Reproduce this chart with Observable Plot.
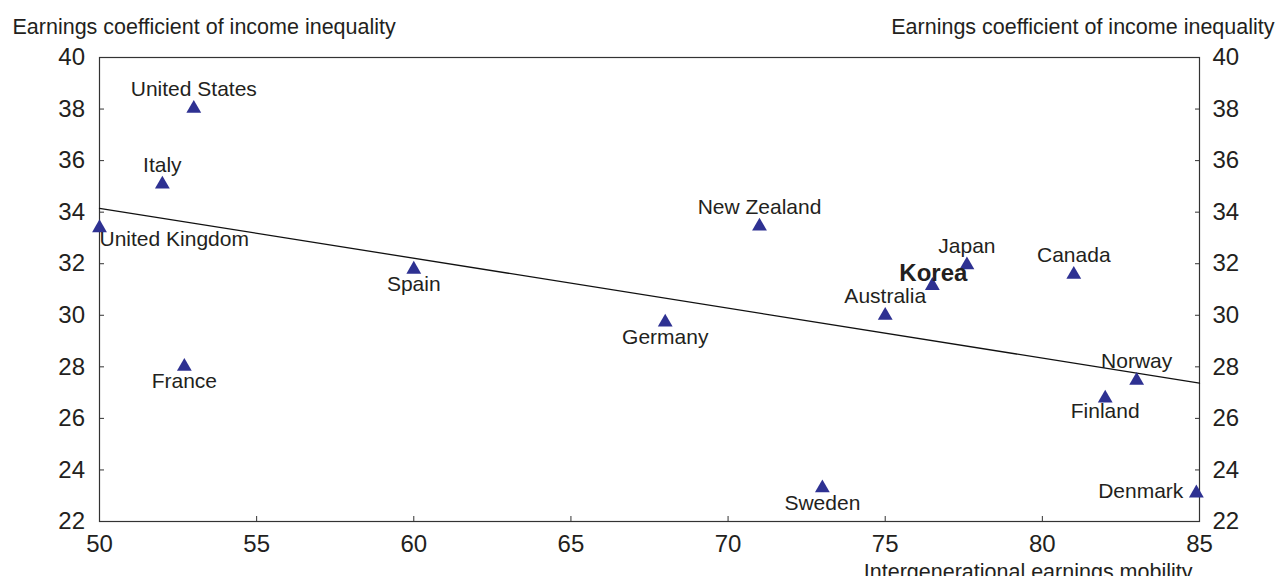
<!DOCTYPE html>
<html>
<head>
<meta charset="utf-8">
<script src="https://cdn.jsdelivr.net/npm/d3@7"></script>
<script src="https://cdn.jsdelivr.net/npm/@observablehq/plot@0.6"></script>
<style>
  html, body { margin: 0; padding: 0; background: #fff; overflow: hidden; }
</style>
</head>
<body>
<div id="chart"></div>
<script>
// ---- data ----
const countries = ["United States", "Italy", "United Kingdom", "Spain", "France", "Germany",
  "New Zealand", "Sweden", "Australia", "Korea", "Japan", "Canada", "Norway", "Finland", "Denmark"];
const mobility = [53.0, 52.0, 50.0, 60.0, 52.7, 68.0, 71.0, 73.0, 75.0, 76.5, 77.6, 81.0, 83.0, 82.0, 84.9];
const inequality = [38.02, 35.08, 33.39, 31.78, 28.01, 29.73, 33.45, 23.3, 29.99, 31.15, 31.95, 31.58, 27.47, 26.78, 23.1];
const xTicks = [50, 55, 60, 65, 70, 75, 80, 85];
const yTicks = [22, 24, 26, 28, 30, 32, 34, 36, 38, 40];
const trendX = [50, 85];
const trendY = [34.15, 27.37];
const yTitle = "Earnings coefficient of income inequality";
const xTitle = "Intergenerational earnings mobility";
const highlighted = "Korea";

// ---- build ----
const data = countries.map((c, i) => ({country: c, x: mobility[i], y: inequality[i]}));
const trend = trendX.map((x, i) => ({x, y: trendY[i]}));
const ink = "#231f20";
const font = "'Liberation Sans', Arial, Helvetica, sans-serif";

const groups = [
  {names: ["United States", "Italy", "New Zealand", "Australia", "Japan", "Canada", "Norway"], opts: {dy: -19}},
  {names: ["Spain", "France", "Germany", "Sweden"], opts: {dy: 15}},
  {names: ["Finland"], opts: {dy: 13}},
  {names: ["United Kingdom"], opts: {dy: 11, textAnchor: "start"}},
  {names: ["Denmark"], opts: {dx: -13, dy: -2, textAnchor: "end"}}
];

const labelMarks = groups.map(g => Plot.text(data.filter(d => g.names.includes(d.country)), {
  x: "x", y: "y", text: "country", fontSize: 21, fill: ink, ...g.opts
}));
labelMarks.push(Plot.text(data.filter(d => d.country === highlighted), {
  x: "x", y: "y", text: "country", fontSize: 24, fontWeight: "bold", fill: ink, dx: 1, dy: -12.5
}));

const chart = Plot.plot({
  width: 1287,
  height: 576,
  marginLeft: 99,
  marginRight: 88,
  marginTop: 57,
  marginBottom: 55,
  x: {domain: [50, 85]},
  y: {domain: [22, 40]},
  style: {fontFamily: font, color: ink, background: "white", overflow: "hidden"},
  marks: [
    Plot.axisX({ticks: xTicks, tickSize: -5, tickPadding: 18.5, fontSize: 24, label: null, stroke: "#333"}),
    Plot.axisY({anchor: "left", ticks: yTicks, tickSize: -5, tickPadding: 19.5, fontSize: 24, label: null, stroke: "#333"}),
    Plot.axisY({anchor: "right", ticks: yTicks, tickSize: -5, tickPadding: 18, fontSize: 24, label: null, stroke: "#333"}),
    Plot.frame({stroke: "#333", strokeWidth: 1.2}),
    Plot.line(trend, {x: "x", y: "y", stroke: "#111", strokeWidth: 1.3}),
    Plot.dot(data, {x: "x", y: "y", symbol: "triangle", r: 5.5, fill: "#2e3192", stroke: "none"}),
    ...labelMarks,
    Plot.text([yTitle], {text: d => d, frameAnchor: "top-left", lineAnchor: "middle", dx: -87, dy: -30, textAnchor: "start", fontSize: 21.5, fill: ink}),
    Plot.text([yTitle], {text: d => d, frameAnchor: "top-right", lineAnchor: "middle", dx: 75, dy: -30, textAnchor: "end", fontSize: 21.5, fill: ink}),
    Plot.text([xTitle], {text: d => d, frameAnchor: "bottom-right", lineAnchor: "middle", dx: -7, dy: 50.5, textAnchor: "end", fontSize: 21.5, fill: ink})
  ]
});
document.getElementById("chart").appendChild(chart);
</script>
</body>
</html>
